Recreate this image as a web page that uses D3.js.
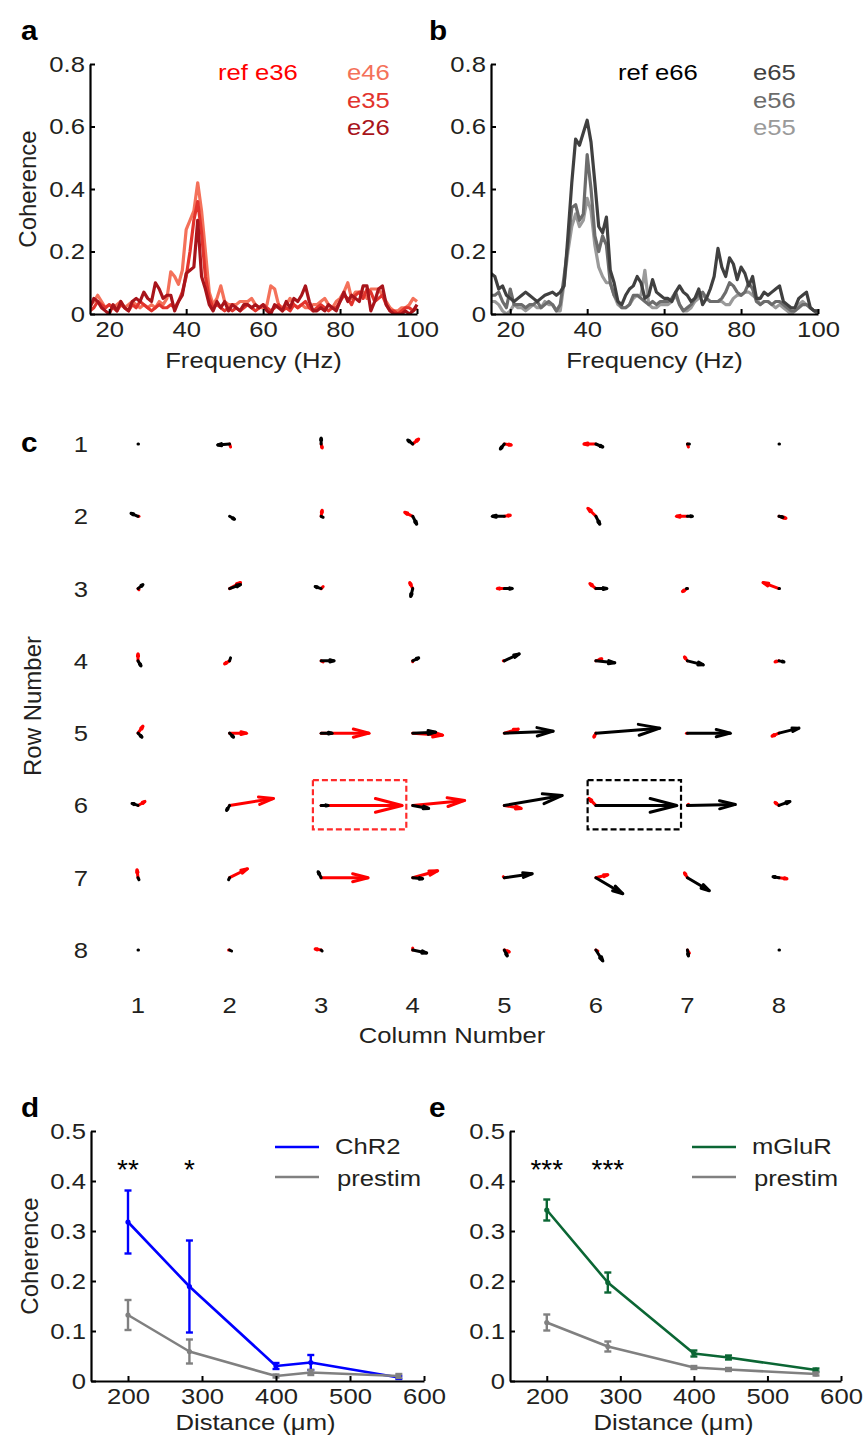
<!DOCTYPE html>
<html><head><meta charset="utf-8">
<script src="https://cdn.jsdelivr.net/npm/d3@7"></script>
<style>body{margin:0;background:#fff}svg{display:block}</style>
</head><body>
<svg id="fig" width="867" height="1439"></svg>
<script>
// ---------- DATA ----------
const freqStart = 15, freqEnd = 100; // 1 Hz steps
const freqs = d3.range(freqStart, freqEnd + 1);
// panel a (reference e36)
const e46 = [0.03,0.04,0.06,0.04,0.02,0.03,0.02,0.03,0.04,0.02,0.03,0.04,0.03,0.02,0.03,0.02,0.03,0.02,0.04,0.03,0.05,0.135,0.12,0.095,0.14,0.27,0.30,0.33,0.42,0.33,0.20,0.07,0.03,0.05,0.09,0.04,0.03,0.03,0.03,0.04,0.04,0.04,0.05,0.03,0.02,0.02,0.03,0.09,0.08,0.03,0.02,0.03,0.05,0.03,0.02,0.03,0.02,0.02,0.03,0.03,0.04,0.05,0.03,0.02,0.04,0.05,0.07,0.10,0.05,0.07,0.07,0.07,0.05,0.08,0.08,0.08,0.06,0.04,0.02,0.01,0.01,0.02,0.02,0.03,0.05,0.04];
const e35 = [0.01,0.02,0.04,0.03,0.02,0.03,0.02,0.01,0.03,0.02,0.01,0.03,0.02,0.04,0.03,0.02,0.01,0.02,0.03,0.02,0.02,0.03,0.02,0.04,0.07,0.12,0.20,0.30,0.36,0.26,0.12,0.05,0.02,0.03,0.02,0.01,0.02,0.01,0.02,0.01,0.02,0.03,0.02,0.01,0.02,0.03,0.02,0.01,0.02,0.03,0.01,0.02,0.01,0.03,0.02,0.03,0.04,0.02,0.01,0.02,0.03,0.02,0.01,0.02,0.02,0.04,0.06,0.05,0.03,0.06,0.07,0.05,0.08,0.07,0.04,0.05,0.06,0.03,0.01,0.01,0.00,0.01,0.02,0.02,0.01,0.02];
const e26 = [0.02,0.05,0.04,0.02,0.01,0.00,0.03,0.01,0.04,0.02,0.01,0.04,0.05,0.04,0.07,0.05,0.04,0.10,0.08,0.05,0.06,0.06,0.01,0.04,0.06,0.13,0.14,0.15,0.30,0.12,0.08,0.03,0.01,0.04,0.02,0.04,0.01,0.03,0.02,0.01,0.03,0.03,0.02,0.03,0.02,0.03,0.01,0.00,0.03,0.02,0.01,0.04,0.02,0.05,0.04,0.06,0.09,0.04,0.01,0.01,0.02,0.01,0.03,0.02,0.01,0.04,0.07,0.04,0.06,0.05,0.04,0.09,0.09,0.01,0.04,0.08,0.09,0.03,0.01,0.00,0.00,0.00,0.01,0.00,0.01,0.03];
// panel b (reference e66)
const e65 = [0.13,0.12,0.08,0.09,0.06,0.05,0.04,0.05,0.06,0.07,0.06,0.05,0.04,0.05,0.06,0.065,0.07,0.06,0.07,0.09,0.25,0.42,0.56,0.54,0.58,0.62,0.55,0.42,0.28,0.26,0.31,0.14,0.10,0.04,0.03,0.06,0.08,0.09,0.12,0.10,0.05,0.06,0.11,0.07,0.06,0.05,0.05,0.04,0.07,0.09,0.07,0.06,0.04,0.05,0.08,0.03,0.05,0.08,0.12,0.21,0.15,0.12,0.18,0.16,0.11,0.15,0.13,0.09,0.12,0.05,0.05,0.07,0.06,0.07,0.08,0.09,0.04,0.03,0.02,0.02,0.05,0.06,0.07,0.02,0.01,0.01];
const e56 = [0.06,0.06,0.07,0.04,0.02,0.08,0.03,0.03,0.03,0.02,0.03,0.03,0.04,0.02,0.03,0.04,0.03,0.01,0.03,0.12,0.22,0.34,0.35,0.30,0.32,0.51,0.40,0.25,0.20,0.25,0.22,0.10,0.06,0.04,0.02,0.02,0.03,0.06,0.06,0.05,0.04,0.03,0.04,0.03,0.04,0.04,0.04,0.05,0.07,0.03,0.01,0.02,0.03,0.05,0.06,0.07,0.05,0.04,0.04,0.04,0.05,0.07,0.10,0.09,0.07,0.06,0.07,0.10,0.08,0.04,0.03,0.04,0.04,0.03,0.04,0.04,0.03,0.02,0.01,0.01,0.02,0.03,0.03,0.02,0.01,0.00];
const e55 = [0.04,0.04,0.03,0.01,0.00,0.01,0.03,0.02,0.02,0.01,0.02,0.03,0.02,0.02,0.04,0.03,0.03,0.01,0.01,0.10,0.20,0.28,0.32,0.28,0.30,0.37,0.33,0.22,0.15,0.12,0.10,0.10,0.06,0.03,0.02,0.02,0.03,0.05,0.06,0.06,0.14,0.03,0.02,0.02,0.03,0.03,0.03,0.04,0.06,0.03,0.01,0.01,0.02,0.04,0.05,0.06,0.05,0.04,0.04,0.04,0.04,0.03,0.03,0.05,0.06,0.06,0.07,0.07,0.06,0.05,0.03,0.04,0.04,0.03,0.02,0.03,0.02,0.01,0.00,0.01,0.03,0.04,0.03,0.02,0.01,0.01];
const freqTicks = [20, 40, 60, 80, 100];
const cohTicksAB = [0, 0.2, 0.4, 0.6, 0.8];

// panel c: quiver vectors per electrode (row-major, rows 1..8, cols 1..8), [u, v] in quiver units (v positive = down)
const gridRows = [1,2,3,4,5,6,7,8];
const gridCols = [1,2,3,4,5,6,7,8];
const redVec = [
 [[0,0],[1,3],[1,4],[6,-5],[7,1],[-12,0],[1,3],[0,0]],
 [[1,0],[0,0],[1,-6],[-8,-4],[6,-1],[-8,-8],[-11,0],[7,2]],
 [[1,1],[11,-6],[2,-2],[-3,-6],[-7,0],[-6,-5],[-5,3],[-16,-6]],
 [[0,-7],[-5,3],[2,1],[0,1],[-1,0],[6,-2],[-3,-4],[-4,1]],
 [[5,-7],[17,0],[48,0],[30,2],[14,-4],[-2,4],[-1,0],[-7,3]],
 [[7,-4],[44,-7],[81,0],[52,-5],[17,3],[-7,-7],[1,-1],[-4,-3]],
 [[-1,-8],[18,-9],[47,0],[25,-7],[-1,-1],[12,-3],[-3,-5],[8,1]],
 [[0,0],[-1,0],[-6,-1],[0,-2],[5,2],[2,1],[2,3],[0,0]]
];
const blackVec = [
 [[0.5,0],[-12,1],[0,-6],[-5,-4],[-4,5],[7,3],[2,0],[0.5,0]],
 [[-7,-3],[5,3],[2,1],[4,8],[-12,0],[4,8],[5,0],[4,1]],
 [[5,-4],[11,-4],[-6,-2],[-2,8],[8,0],[11,0],[-1,0],[0.5,0]],
 [[3,5],[1,-3],[13,0],[6,-3],[15,-7],[19,2],[16,4],[5,1]],
 [[4,4],[4,4],[11,0],[23,-1],[49,-2],[64,-5],[43,0],[20,-5]],
 [[-6,-2],[-3,5],[7,0],[16,3],[58,-10],[81,0],[48,-1],[11,-4]],
 [[1,2],[-1,2],[-3,-6],[10,1],[28,-4],[27,16],[22,13],[-6,-1]],
 [[0.5,0],[2,1],[1,1],[14,3],[3,6],[7,11],[1,6],[0.5,0]]
];
const refBoxes = [{col:3,row:6,color:"#ff2a2a"},{col:6,row:6,color:"#000000"}];

// panels d, e
const distances = [200, 283, 400, 447, 566];
const chr2Mean = [0.318, 0.189, 0.030, 0.037, 0.007];
const chr2Err  = [0.063, 0.092, 0.006, 0.015, 0.003];
const chr2PreMean = [0.132, 0.059, 0.010, 0.017, 0.010];
const chr2PreErr  = [0.030, 0.024, 0.003, 0.005, 0.004];
const mgluMean = [0.342, 0.197, 0.055, 0.047, 0.022];
const mgluErr  = [0.021, 0.020, 0.006, 0.004, 0.003];
const mgluPreMean = [0.117, 0.069, 0.027, 0.023, 0.014];
const mgluPreErr  = [0.016, 0.010, 0.003, 0.003, 0.003];
const distTicks = [200, 300, 400, 500, 600];
const cohTicksDE = [0, 0.1, 0.2, 0.3, 0.4, 0.5];
const chr2Stars = ["**", "*"];
const mgluStars = ["***", "***"];

// ---------- DRAWING ----------
const svg = d3.select("#fig");
const FONT = "'Liberation Sans', Arial, Helvetica, sans-serif";
const TXT = "#231f20";
const SX = 1.14;

function label(sel, x, y, s, o = {}) {
  const t = sel.append("text")
    .attr("transform", `translate(${x},${y}) rotate(${o.rotate||0}) scale(${o.sx||SX},1)`)
    .attr("text-anchor", o.anchor || "start")
    .style("font-family", FONT)
    .style("font-size", (o.size || 22.5) + "px")
    .style("font-weight", o.weight || "normal")
    .style("fill", o.fill || TXT)
    .text(s);
  return t;
}

function styleAxis(g) {
  g.select(".domain").attr("stroke", "#000").attr("stroke-width", 2.2);
  g.selectAll(".tick line").attr("stroke", "#000").attr("stroke-width", 2);
  g.selectAll(".tick text").each(function() {
    const t = d3.select(this);
    const x = +t.attr("x") || 0, y = +t.attr("y") || 0;
    t.attr("x", 0).attr("y", 0)
     .attr("transform", `translate(${x},${y}) scale(${SX},1)`)
     .style("font-family", FONT).style("font-size", "22.5px").attr("fill", TXT);
  });
}
const cohFmt = d => d === 0 ? "0" : d3.format(".1f")(d);

function drawAxes(x, y, xTicks, yTicks) {
  const gx = svg.append("g").attr("transform", `translate(0,${y.range()[0]})`)
    .call(d3.axisBottom(x).tickValues(xTicks).tickSizeInner(-5).tickSizeOuter(0).tickPadding(7));
  gx.selectAll(".tick text").attr("dy", "0.71em");
  styleAxis(gx);
  const gy = svg.append("g").attr("transform", `translate(${x.range()[0]},0)`)
    .call(d3.axisLeft(y).tickValues(yTicks).tickFormat(cohFmt).tickSizeInner(-5).tickSizeOuter(0).tickPadding(5));
  styleAxis(gy);
}

// Panel labels
label(svg, 21, 40, "a", {size: 27, weight: "bold", sx: 1.1, fill: "#000"});
label(svg, 429, 40, "b", {size: 27, weight: "bold", sx: 1.1, fill: "#000"});
label(svg, 21, 452, "c", {size: 27, weight: "bold", sx: 1.1, fill: "#000"});
label(svg, 21, 1117, "d", {size: 27, weight: "bold", sx: 1.1, fill: "#000"});
label(svg, 429, 1117, "e", {size: 27, weight: "bold", sx: 1.1, fill: "#000"});

// ----- panels a & b -----
function spectrum(x0, x1, series, labels, refText) {
  const x = d3.scaleLinear().domain([freqStart, freqEnd]).range([x0, x1]);
  const y = d3.scaleLinear().domain([0, 0.8]).range([314, 64]);
  const line = d3.line().x((d, i) => x(freqs[i])).y(d => y(d));
  const clip = "clip" + x0;
  svg.append("clipPath").attr("id", clip).append("rect")
    .attr("x", x0).attr("y", y(0.8)).attr("width", x1 - x0 + 3).attr("height", y(0) - y(0.8));
  const g = svg.append("g").attr("clip-path", `url(#${clip})`);
  series.forEach(s => {
    g.append("path").datum(s.data).attr("d", line).attr("fill", "none")
      .attr("stroke", s.color).attr("stroke-width", 3.2).attr("stroke-linejoin", "round");
  });
  drawAxes(x, y, freqTicks, cohTicksAB);
  label(svg, (x0 + x1) / 2, 368, "Frequency (Hz)", {anchor: "middle"});
  label(svg, refText.x, 80, refText.text, {fill: refText.color});
  labels.forEach((s, i) => label(svg, s.lx, 80 + i * 27.5, s.name, {fill: s.color}));
  return {x, y};
}
spectrum(90, 417, [
  {data: e46, color: "#f4715a"},
  {data: e35, color: "#e2332c"},
  {data: e26, color: "#a8141b"}
], [
  {color: "#f4715a", name: "e46", lx: 347},
  {color: "#e2332c", name: "e35", lx: 347},
  {color: "#a8141b", name: "e26", lx: 347}
], {x: 218, text: "ref e36", color: "#ff0000"});
spectrum(491, 818, [
  {data: e55, color: "#9a9a9a"},
  {data: e56, color: "#6c6c6c"},
  {data: e65, color: "#404040"}
], [
  {color: "#404040", name: "e65", lx: 753},
  {color: "#6c6c6c", name: "e56", lx: 753},
  {color: "#9a9a9a", name: "e55", lx: 753}
], {x: 618, text: "ref e66", color: "#000"});
label(svg, 36, 189, "Coherence", {anchor: "middle", rotate: -90, sx: 1.0, size: 24});

// ----- panel c -----
const gxs = d3.scaleLinear().domain([1, 8]).range([138, 779]);
const gys = d3.scaleLinear().domain([1, 8]).range([444, 950]);
const qs = d3.scaleLinear().domain([0, 100]).range([0, (gxs(2) - gxs(1)) * 100 / 91.6]);
const quiverG = svg.append("g");
function arrow(g, cx, cy, u, v, color) {
  const x1 = cx + qs(u), y1 = cy + qs(v);
  g.append("line").attr("x1", cx).attr("y1", cy).attr("x2", x1).attr("y2", y1)
    .attr("stroke", color).attr("stroke-width", 3).attr("stroke-linecap", "round");
  const L = Math.hypot(x1 - cx, y1 - cy);
  if (L > 4) {
    const ux = (x1 - cx) / L, uy = (y1 - cy) / L;
    const hl = 0.33 * L, hw = 0.085 * L;
    const bx = x1 - ux * hl, by = y1 - uy * hl;
    g.append("path")
      .attr("d", `M${bx - uy * hw},${by + ux * hw}L${x1},${y1}L${bx + uy * hw},${by - ux * hw}`)
      .attr("fill", "none").attr("stroke", color).attr("stroke-width", 3)
      .attr("stroke-linecap", "round").attr("stroke-linejoin", "miter");
  }
}
gridRows.forEach((r, ri) => gridCols.forEach((c, ci) => {
  const cx = gxs(c), cy = gys(r);
  const rv = redVec[ri][ci], bv = blackVec[ri][ci];
  if (rv[0] !== 0 || rv[1] !== 0) arrow(quiverG, cx, cy, rv[0], rv[1], "#ff0000");
  arrow(quiverG, cx, cy, bv[0], bv[1], "#000000");
}));
refBoxes.forEach(b => {
  svg.append("rect")
    .attr("x", gxs(b.col - 0.09)).attr("y", gys(b.row - 0.35))
    .attr("width", gxs(b.col + 0.93) - gxs(b.col - 0.09))
    .attr("height", gys(b.row + 0.33) - gys(b.row - 0.35))
    .attr("fill", "none").attr("stroke", b.color).attr("stroke-width", 2.2)
    .attr("stroke-dasharray", "6,3");
});
gridRows.forEach(r => label(svg, 81, gys(r) + 8, String(r), {anchor: "middle"}));
gridCols.forEach(c => label(svg, gxs(c), 1013, String(c), {anchor: "middle"}));
label(svg, 452, 1043, "Column Number", {anchor: "middle"});
label(svg, 41, 706, "Row Number", {anchor: "middle", rotate: -90, sx: 1.0, size: 24});

// ----- panels d & e -----
function distPanel(x0, x1, mean, err, color, pre, preErr, name, stars) {
  const x = d3.scaleLinear().domain([150, 600]).range([x0, x1]);
  const y = d3.scaleLinear().domain([0, 0.5]).range([1381, 1131]);
  const line = d3.line().x((d, i) => x(distances[i])).y(d => y(d));
  [[mean, err, color], [pre, preErr, "#808080"]].forEach(([m, e, col]) => {
    const g = svg.append("g");
    g.append("path").datum(m).attr("d", line).attr("fill", "none")
      .attr("stroke", col).attr("stroke-width", 2.6).attr("stroke-linejoin", "round");
    m.forEach((v, i) => {
      const xx = x(distances[i]);
      g.append("line").attr("x1", xx).attr("x2", xx).attr("y1", y(v - e[i])).attr("y2", y(v + e[i]))
        .attr("stroke", col).attr("stroke-width", 2.4);
      [v - e[i], v + e[i]].forEach(w => g.append("line")
        .attr("x1", xx - 3.5).attr("x2", xx + 3.5).attr("y1", y(w)).attr("y2", y(w))
        .attr("stroke", col).attr("stroke-width", 2.4));
      g.append("circle").attr("cx", xx).attr("cy", y(v)).attr("r", 2.6).attr("fill", col);
    });
  });
  drawAxes(x, y, distTicks, cohTicksDE);
  label(svg, (x0 + x1) / 2 - 2, 1430, "Distance (μm)", {anchor: "middle"});
  stars.forEach((s, i) => label(svg, x(distances[i]), 1179, s, {anchor: "middle", size: 28, sx: 1.0, fill: "#000"}));
  // legend
  const lx = x1 - 149, tx = lx + 60;
  svg.append("line").attr("x1", lx).attr("x2", lx + 44).attr("y1", 1147).attr("y2", 1147)
    .attr("stroke", color).attr("stroke-width", 2.6);
  svg.append("line").attr("x1", lx).attr("x2", lx + 44).attr("y1", 1177).attr("y2", 1177)
    .attr("stroke", "#808080").attr("stroke-width", 2.6);
  label(svg, tx, 1154, name);
  label(svg, tx + 2, 1186, "prestim");
}
distPanel(91, 424, chr2Mean, chr2Err, "#0000ff", chr2PreMean, chr2PreErr, "ChR2", chr2Stars);
distPanel(510, 841, mgluMean, mgluErr, "#0b6634", mgluPreMean, mgluPreErr, "mGluR", mgluStars);
label(svg, 38, 1256, "Coherence", {anchor: "middle", rotate: -90, sx: 1.0, size: 24});
</script>
</body></html>
